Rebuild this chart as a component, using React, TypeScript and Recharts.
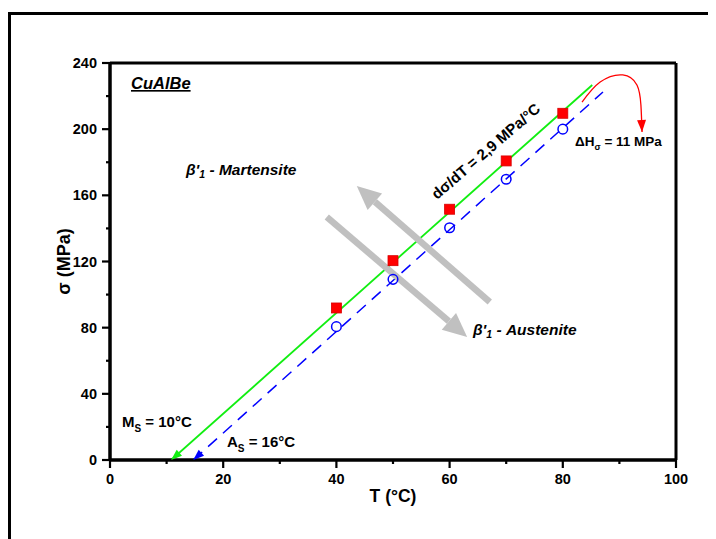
import React from "react";
import { ComposedChart, Line, Scatter, XAxis, YAxis, CartesianGrid } from "recharts";

const FONT = '"Liberation Sans", Arial, sans-serif';

// measured points
const temps = [40, 50, 60, 70, 80];
const martensite = [91.9, 120.5, 151.6, 180.8, 209.6];
const austenite = [80.6, 109.2, 140.4, 169.7, 200];

const xTicks = [0, 10, 20, 30, 40, 50, 60, 70, 80, 90, 100];
const yTicks = [0, 20, 40, 60, 80, 100, 120, 140, 160, 180, 200, 220, 240];

// fitted lines (drawn down to the transformation start temperatures)
const msLine = [{ T: 10.8, s: 0 }, { T: 85.2, s: 226.7 }];
const asLine = [{ T: 14.7, s: 0 }, { T: 87.1, s: 222.5 }];

// grey arrows and the hysteresis arrow
const toAustenite = [{ T: 38.3, s: 146.9 }, { T: 63.1, s: 74.4 }];
const toMartensite = [{ T: 67.1, s: 95.5 }, { T: 43.6, s: 165.7 }];
const hysteresis = [
  { T: 83.4, s: 216.4 },
  { T: 86.6, s: 228.5 },
  { T: 90.6, s: 232.8 },
  { T: 93.1, s: 226.7 },
  { T: 93.8, s: 214.6 },
  { T: 94, s: 198.3 },
];

const martPts = temps.map((T, i) => ({ T, s: martensite[i] }));
const austPts = temps.map((T, i) => ({ T, s: austenite[i] }));

const head = (tx: number, ty: number, fx: number, fy: number, len: number, half: number) => {
  const dx = tx - fx;
  const dy = ty - fy;
  const d = Math.hypot(dx, dy) || 1;
  const ux = dx / d;
  const uy = dy / d;
  const bx = tx - ux * len;
  const by = ty - uy * len;
  return {
    bx,
    by,
    pts: `${tx},${ty} ${bx - uy * half},${by + ux * half} ${bx + uy * half},${by - ux * half}`,
  };
};

// arrow tip at first point of a fit line
const startArrow = (color: string) => (p: any) => {
  const pts = p.points;
  if (p.index !== 0 || !pts || pts.length < 2) return <g key={p.key} />;
  const h = head(pts[0].x, pts[0].y, pts[1].x, pts[1].y, 11, 4);
  return <polygon key={p.key} points={h.pts} fill={color} />;
};

// thick grey arrow, drawn whole from the two points
const GreyArrow = (p: any) => {
  const pts = p.points;
  if (p.index !== 1 || !pts || pts.length < 2) return <g key={p.key} />;
  const h = head(pts[1].x, pts[1].y, pts[0].x, pts[0].y, 24, 11);
  return (
    <g key={p.key}>
      <line x1={pts[0].x} y1={pts[0].y} x2={h.bx} y2={h.by} stroke="#c0c0c0" strokeWidth={6.5} />
      <polygon points={h.pts} fill="#c0c0c0" />
    </g>
  );
};

const RedHead = (p: any) => {
  const pts = p.points;
  if (!pts || p.index !== pts.length - 1) return <g key={p.key} />;
  const a = pts[pts.length - 1];
  const b = pts[pts.length - 2];
  const h = head(a.x, a.y, b.x, b.y, 12, 4.5);
  return <polygon key={p.key} points={h.pts} fill="#ff0000" />;
};

const Square = (p: any) => (
  <rect x={p.cx - 5} y={p.cy - 5} width={10} height={10} fill="#ff0000" stroke="#d80000" strokeWidth={0.8} />
);

const OpenCircle = (p: any) => (
  <circle cx={p.cx} cy={p.cy} r={4.8} fill="none" stroke="#0000ff" strokeWidth={1.5} />
);

const XTick = (props: any) => {
  const { x, y, payload } = props;
  const v = payload.value;
  const major = v % 20 === 0;
  const y0 = y - 12;
  return (
    <g>
      <line x1={x} x2={x} y1={y0} y2={y0 + (major ? 8 : 4)} stroke="#000" strokeWidth={2.2} />
      {major && (
        <text x={x} y={y0 + 24} textAnchor="middle" fontFamily={FONT} fontWeight="bold" fontSize={14.5} fill="#000">
          {v}
        </text>
      )}
    </g>
  );
};

const YTick = (props: any) => {
  const { x, y, payload } = props;
  const v = payload.value;
  const major = v % 40 === 0;
  const x0 = x + 12;
  return (
    <g>
      <line x1={x0} x2={x0 - (major ? 8 : 4)} y1={y} y2={y} stroke="#000" strokeWidth={2.2} />
      {major && (
        <text x={x0 - 13} y={y + 5} textAnchor="end" fontFamily={FONT} fontWeight="bold" fontSize={14.5} fill="#000">
          {v}
        </text>
      )}
    </g>
  );
};

const txt = { fontFamily: FONT, fontWeight: "bold" as const, fill: "#000" };
const frameLine = { stroke: "#000", strokeWidth: 3 };

export default function App() {
  return (
    <div
      style={{
        marginTop: 4,
        width: 720,
        height: 540,
        boxSizing: "border-box",
        borderLeft: "3px solid #000",
        borderTop: "3px solid #000",
        position: "relative",
      }}
    >
      <style>{"html,body{overflow:hidden}"}</style>
      <ComposedChart width={697} height={516} margin={{ top: 48, right: 32, left: 39, bottom: 21 }}>
        {/* box around the plot area */}
        <CartesianGrid horizontalValues={[0, 240]} verticalValues={[0, 100]} stroke="#000" strokeWidth={3} />
        <XAxis
          dataKey="T"
          type="number"
          domain={[0, 100]}
          ticks={xTicks}
          interval={0}
          allowDataOverflow
          height={50}
          tickSize={8}
          tickMargin={4}
          tickLine={false}
          tick={<XTick />}
          axisLine={frameLine}
          label={{ value: "T (°C)", position: "insideBottom", offset: 8, style: { ...txt, fontSize: 17.5 } }}
        />
        <YAxis
          dataKey="s"
          type="number"
          domain={[0, 240]}
          ticks={yTicks}
          interval={0}
          allowDataOverflow
          width={60}
          tickSize={8}
          tickMargin={4}
          tickLine={false}
          tick={<YTick />}
          axisLine={frameLine}
          label={{
            value: "σ (MPa)",
            angle: -90,
            position: "insideLeft",
            offset: 14,
            style: { ...txt, fontSize: 18, textAnchor: "middle" },
          }}
        />
        <Line data={toAustenite} dataKey="s" stroke="none" dot={GreyArrow} activeDot={false} isAnimationActive={false} />
        <Line data={toMartensite} dataKey="s" stroke="none" dot={GreyArrow} activeDot={false} isAnimationActive={false} />
        <Line
          data={asLine}
          dataKey="s"
          stroke="#0000ff"
          strokeWidth={1.5}
          strokeDasharray="12 8"
          dot={startArrow("#0000ff")}
          activeDot={false}
          isAnimationActive={false}
        />
        <Line
          data={msLine}
          dataKey="s"
          stroke="#11ee11"
          strokeWidth={1.8}
          dot={startArrow("#11ee11")}
          activeDot={false}
          isAnimationActive={false}
        />
        <Line
          data={hysteresis}
          dataKey="s"
          type="natural"
          stroke="#ff0000"
          strokeWidth={1.3}
          dot={RedHead}
          activeDot={false}
          isAnimationActive={false}
        />
        <Scatter data={austPts} shape={OpenCircle} isAnimationActive={false} />
        <Scatter data={martPts} shape={Square} isAnimationActive={false} />
      </ComposedChart>
      <svg width={697} height={516} style={{ position: "absolute", left: 0, top: 0, pointerEvents: "none" }}>
        <text x={120} y={74} {...txt} fontSize={16.5} fontStyle="italic" textDecoration="underline">
          CuAlBe
        </text>
        <text x={175} y={160} {...txt} fontSize={15.5} fontStyle="italic">
          β'
          <tspan fontSize={10.5} dy={3}>1</tspan>
          <tspan dy={-3}> - Martensite</tspan>
        </text>
        <text x={462} y={320} {...txt} fontSize={15.5} fontStyle="italic">
          β'
          <tspan fontSize={10.5} dy={3}>1</tspan>
          <tspan dy={-3}> - Austenite</tspan>
        </text>
        <text x={426} y={185} {...txt} fontSize={15.2} transform="rotate(-40.7 426 185)">
          dσ/dT = 2,9 MPa/°C
        </text>
        <text x={564} y={131} {...txt} fontSize={13.5}>
          ΔH
          <tspan fontSize={9} dy={4}>σ</tspan>
          <tspan dy={-4}> = 11 MPa</tspan>
        </text>
        <text x={111} y={412} {...txt} fontSize={15}>
          M
          <tspan fontSize={10} dy={5}>S</tspan>
          <tspan dy={-5}> = 10°C</tspan>
        </text>
        <text x={216} y={432} {...txt} fontSize={15}>
          A
          <tspan fontSize={10} dy={5}>S</tspan>
          <tspan dy={-5}> = 16°C</tspan>
        </text>
      </svg>
    </div>
  );
}
